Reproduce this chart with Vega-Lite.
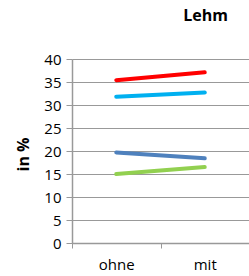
{
  "$schema": "https://vega.github.io/schema/vega-lite/v6.json",
  "autosize": "none",
  "width": 177,
  "height": 184,
  "padding": {"left": 72, "top": 59, "right": 0, "bottom": 33},
  "background": "white",
  "title": {
    "text": "Lehm",
    "font": "Open Sans",
    "fontSize": 16,
    "fontWeight": "bold",
    "color": "#000000",
    "anchor": "middle",
    "dx": 45,
    "baseline": "alphabetic",
    "offset": 15
  },
  "data": {
    "values": [
      {"cat": "ohne", "series": "A", "value": 35.4},
      {"cat": "mit", "series": "A", "value": 37.1},
      {"cat": "ohne", "series": "B", "value": 31.8},
      {"cat": "mit", "series": "B", "value": 32.7},
      {"cat": "ohne", "series": "C", "value": 19.7},
      {"cat": "mit", "series": "C", "value": 18.4},
      {"cat": "ohne", "series": "D", "value": 15.0},
      {"cat": "mit", "series": "D", "value": 16.5}
    ]
  },
  "mark": {"type": "line", "strokeWidth": 4, "strokeCap": "round"},
  "encoding": {
    "x": {
      "field": "cat",
      "type": "nominal",
      "sort": ["ohne", "mit"],
      "scale": {"type": "band", "paddingInner": 0, "paddingOuter": 0},
      "axis": {
        "title": null,
        "labelAngle": 0,
        "labelFont": "Open Sans",
        "labelFontSize": 15,
        "labelColor": "#000000",
        "labelPadding": 9,
        "domainColor": "#999999",
        "domainWidth": 1.5,
        "tickColor": "#999999",
        "tickSize": 5,
        "tickBand": "extent",
        "grid": false
      }
    },
    "y": {
      "field": "value",
      "type": "quantitative",
      "scale": {"domain": [0, 40], "nice": false},
      "axis": {
        "title": "in %",
        "titleFont": "Open Sans",
        "titleFontSize": 16,
        "titleFontWeight": "bold",
        "titleColor": "#000000",
        "titleX": -49,
        "titleY": 95,
        "titleAngle": -90,
        "titleBaseline": "middle",
        "titleAlign": "center",
        "values": [0, 5, 10, 15, 20, 25, 30, 35, 40],
        "labelFont": "Open Sans",
        "labelFontSize": 15,
        "labelColor": "#000000",
        "labelPadding": 5,
        "domainColor": "#999999",
        "domainWidth": 1.5,
        "tickColor": "#999999",
        "tickSize": 6,
        "grid": true,
        "gridColor": "#999999",
        "gridWidth": 1
      }
    },
    "color": {
      "field": "series",
      "type": "nominal",
      "scale": {"domain": ["A", "B", "C", "D"], "range": ["#FF0000", "#00B0F0", "#4F81BD", "#92D050"]},
      "legend": null
    }
  },
  "config": {"view": {"stroke": null}}
}
